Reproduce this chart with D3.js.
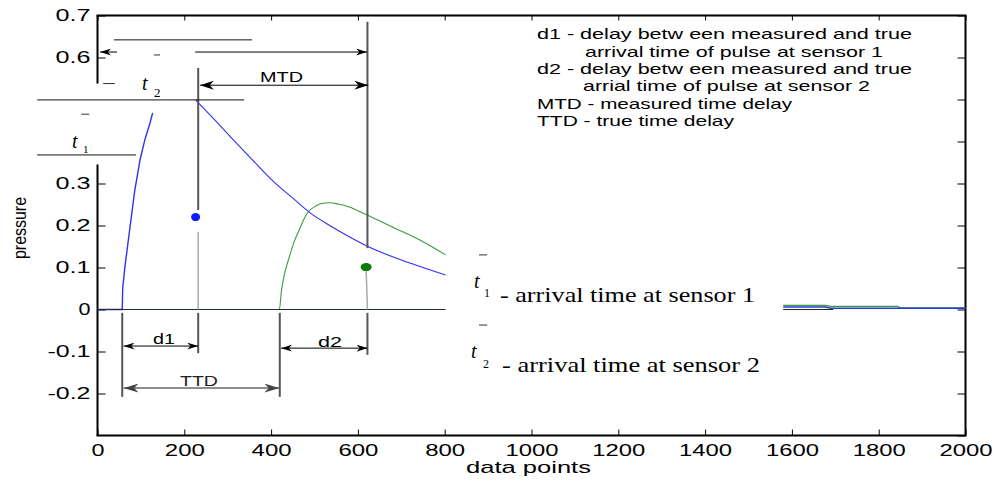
<!DOCTYPE html>
<html><head><meta charset="utf-8">
<script src="https://cdn.jsdelivr.net/npm/d3@7"></script>
<style>
html,body{margin:0;padding:0;background:#fff;}
svg{display:block;}
text{font-family:"Liberation Sans",Arial,sans-serif;}
.serif{font-family:"Liberation Serif","Times New Roman",serif;}
</style></head>
<body>
<svg id="chart" width="997" height="481"></svg>
<script>
// ---- data ----
const xTicks = [0,200,400,600,800,1000,1200,1400,1600,1800,2000];
const yTickLabels = [0.7,0.6,0.3,0.2,0.1,0,-0.1,-0.2];
const yTicksRight = [-0.3,-0.2,-0.1,0,0.1,0.2,0.3,0.4,0.5,0.6,0.7];

const blueRiseX = [0, 57, 58, 63, 75, 86, 98, 109, 121, 127];
const blueRiseY = [0, 0, 0.05, 0.10, 0.197, 0.284, 0.356, 0.404, 0.444, 0.468];
const blueDecayX = [226, 275, 313, 359, 402, 450, 490, 540, 582, 623, 697, 750, 802];
const blueDecayY = [0.499, 0.446, 0.404, 0.354, 0.308, 0.265, 0.230, 0.197, 0.172, 0.150, 0.119, 0.100, 0.082];
const greenX = [0, 419, 424, 431, 442, 453, 465, 483, 504, 520, 535, 555, 580, 619, 678, 747, 802];
const greenY = [0, 0, 0.046, 0.085, 0.125, 0.161, 0.190, 0.229, 0.247, 0.253, 0.254, 0.251, 0.244, 0.226, 0.197, 0.163, 0.130];
const blueTailX = [1580, 1677, 1690, 2000];
const blueTailY = [0.006, 0.006, 0.003, 0.003];
const greenTailX = [1580, 1677, 1690, 1843, 1850, 2000];
const greenTailY = [0.010, 0.010, 0.0076, 0.0076, 0.004, 0.004];
const zeroSegments = [[0, 802], [1580, 1695]];

const measuredX = [226, 619];
const measuredY = [0.22, 0.101];

const legendLines = [
  "d1 - delay betw een measured and true",
  "arrival time of pulse at sensor 1",
  "d2 - delay betw een measured and true",
  "arrial time of pulse at sensor 2",
  "MTD - measured time delay",
  "TTD - true time delay"
];
const tNotes = ["- arrival time at sensor 1", "- arrival time at sensor 2"];

// ---- chart ----
const svg = d3.select("#chart");
svg.append("rect").attr("width",997).attr("height",481).attr("fill","#fff");
const x = d3.scaleLinear().domain([0,2000]).range([97.5,965.5]);
const y = d3.scaleLinear().domain([-0.3,0.7]).range([435.5,15.5]);

const defs = svg.append("defs");
function mk(id, w, h, color){
  defs.append("marker").attr("id",id).attr("viewBox",`0 0 ${w} ${h}`)
    .attr("refX",w).attr("refY",h/2).attr("markerWidth",w).attr("markerHeight",h)
    .attr("markerUnits","userSpaceOnUse").attr("orient","auto-start-reverse")
    .append("path").attr("d",`M0,0 L${w},${h/2} L0,${h} L${w*0.3},${h/2} Z`).attr("fill",color);
}
mk("arS",11,7,"#000"); mk("arB",14,9,"#000"); mk("arG",15,9,"#444");

const SANS = "'Liberation Sans', Arial, sans-serif";
// axes
const fmt = d => d === 0 ? "0" : String(d);
const gB = svg.append("g").attr("transform",`translate(0,${y(-0.3)})`)
  .call(d3.axisBottom(x).tickValues(xTicks).tickSize(-6).tickPadding(9).tickFormat(fmt));
const gT = svg.append("g").attr("transform",`translate(0,${y(0.7)})`)
  .call(d3.axisTop(x).tickValues(xTicks).tickSize(-5).tickFormat(""));
const gL = svg.append("g").attr("transform",`translate(${x(0)},0)`)
  .call(d3.axisLeft(y).tickValues(yTickLabels).tickSize(-8).tickPadding(7).tickFormat(fmt));
const gR = svg.append("g").attr("transform",`translate(${x(2000)},0)`)
  .call(d3.axisRight(y).tickValues(yTicksRight).tickSize(-8).tickFormat(""));
[gB,gT,gL,gR].forEach(g=>{ g.select(".domain").remove(); g.selectAll("line").attr("stroke","#000").attr("stroke-width",1); });
gB.selectAll("text").attr("font-size",16).attr("fill","#000").attr("font-family",SANS)
  .attr("textLength", d => String(d).length===1 ? 13 : (String(d).length===3 ? 40 : 53)).attr("lengthAdjust","spacingAndGlyphs");
gL.selectAll("text").attr("font-size",16).attr("fill","#000").attr("font-family",SANS)
  .attr("textLength", d => d===0 ? 12 : (d<0 ? 43 : 35)).attr("lengthAdjust","spacingAndGlyphs");

// box lines (left axis broken)
const ax = svg.append("g").attr("stroke","#000").attr("stroke-width",2);
ax.append("line").attr("x1",x(0)-1).attr("x2",x(2000)+1).attr("y1",y(0.7)).attr("y2",y(0.7));
ax.append("line").attr("x1",x(0)-1).attr("x2",x(2000)+1).attr("y1",y(-0.3)).attr("y2",y(-0.3));
ax.append("line").attr("x1",x(2000)).attr("x2",x(2000)).attr("y1",y(0.7)).attr("y2",y(-0.3));
ax.append("line").attr("x1",x(0)).attr("x2",x(0)).attr("y1",y(0.7)).attr("y2",y(0.538));
ax.append("line").attr("x1",x(0)).attr("x2",x(0)).attr("y1",y(0.345)).attr("y2",y(-0.3));

// curves
const line = d3.line().x(d=>x(d[0])).y(d=>y(d[1]));
const smooth = d3.line().x(d=>x(d[0])).y(d=>y(d[1])).curve(d3.curveMonotoneX);
const zip = (a,b) => a.map((v,i)=>[v,b[i]]);
const curves = svg.append("g").attr("fill","none");
curves.append("path").attr("d",smooth(zip(greenX,greenY))).attr("stroke","#3a9a3a").attr("stroke-width",1.1);
curves.append("path").attr("d",line(zip(blueRiseX,blueRiseY))).attr("stroke","#3030f0").attr("stroke-width",1.4);
curves.append("path").attr("d",smooth(zip(blueDecayX,blueDecayY))).attr("stroke","#3030f0").attr("stroke-width",1.1);
curves.append("path").attr("d",line(zip(greenTailX,greenTailY))).attr("stroke","#3a9a3a").attr("stroke-width",1.3);
curves.append("path").attr("d",line(zip(blueTailX,blueTailY))).attr("stroke","#2a3ad0").attr("stroke-width",1.5);
zeroSegments.forEach(s=>{
  curves.append("path").attr("d",line([[s[0],0],[s[1],0]])).attr("stroke","#1e2e28").attr("stroke-width",1.2);
});

// annotation geometry (data units)
const darkV = [[232,0.575,0.237],[622,0.685,0.146],[57,-0.008,-0.208],[232,-0.008,-0.104],[420,-0.008,-0.208],[622,-0.008,-0.108]];
const lightV = [[232,0.185,0,232],[619,0.094,0,622]];
const plainH = [[-139,338,0.499],[-139,89,0.368],[38,356,0.642]];
const an = svg.append("g");
darkV.forEach(v=>an.append("line").attr("x1",x(v[0])).attr("x2",x(v[0])).attr("y1",y(v[1])).attr("y2",y(v[2])).attr("stroke","#555").attr("stroke-width",2));
lightV.forEach(v=>an.append("line").attr("x1",x(v[0])).attr("x2",x(v[3])).attr("y1",y(v[1])).attr("y2",y(v[2])).attr("stroke","#aaa").attr("stroke-width",1.5));
plainH.forEach(h=>an.append("line").attr("x1",x(h[0])).attr("x2",x(h[1])).attr("y1",y(h[2])).attr("y2",y(h[2])).attr("stroke","#111").attr("stroke-width",1));

// arrows: [x1,x2,y,markerStart,markerEnd,color,width]
const arrows = [
  [60,232,-0.087,"arS","arS","#000",1],
  [423,622,-0.092,"arS","arS","#000",1],
  [60,419,-0.187,"arG","arG","#666",1.6],
  [236,624,0.534,"arB","arB","#000",1],
  [225,621,0.613,null,"arS","#000",1],
  [6,45,0.613,"arS",null,"#000",1]
];
arrows.forEach(a=>{
  const l = an.append("line").attr("x1",x(a[0])).attr("x2",x(a[1])).attr("y1",y(a[2])).attr("y2",y(a[2]))
    .attr("stroke",a[5]).attr("stroke-width",a[6]);
  if(a[3]) l.attr("marker-start",`url(#${a[3]})`);
  if(a[4]) l.attr("marker-end",`url(#${a[4]})`);
});

// small bar marks
const bars = [[-37,-19,0.465],[130,144,0.606],[13,40,0.538],[879,898,0.130],[879,898,-0.037]];
bars.forEach(b=>an.append("line").attr("x1",x(b[0])).attr("x2",x(b[1])).attr("y1",y(b[2])).attr("y2",y(b[2])).attr("stroke","#333").attr("stroke-width",1));

// measured points
const dotCol = ["#0a1eff","#0a7a0a"];
svg.append("g").selectAll("ellipse").data(measuredX).join("ellipse")
  .attr("cx",(d)=>x(d)).attr("cy",(d,i)=>y(measuredY[i])).attr("rx",(d,i)=>i?5.5:4.5).attr("ry",4)
  .attr("fill",(d,i)=>dotCol[i]);

// labels
function txt(s, px, py, size, len, opts={}){
  const t = svg.append("text").attr("x",px).attr("y",py).attr("font-size",size).text(s)
    .attr("fill",opts.fill||"#000");
  if(len){ t.attr("textLength",len).attr("lengthAdjust","spacingAndGlyphs"); }
  if(opts.anchor) t.attr("text-anchor",opts.anchor);
  if(opts.cls) t.attr("class",opts.cls);
  if(opts.italic) t.attr("font-style","italic");
  return t;
}
txt("d1",153,344,15,22);
txt("d2",318,347,15,24);
txt("TTD",180,386,15,38,{fill:"#222"});
txt("MTD",260,82,15,43);
txt("data points",466,473,17,125);
svg.append("text").attr("transform","translate(26,228) rotate(-90)").attr("text-anchor","middle")
  .attr("font-size",19).attr("textLength",62).attr("lengthAdjust","spacingAndGlyphs").text("pressure");

const legX = [537,585,537,583,537,537];
const legW = [375,298,375,287,255,197];
const legY = [39,56.5,74,91,108.5,126];
legendLines.forEach((s,i)=>txt(s,legX[i],legY[i],14.5,legW[i]));

// t labels (serif italic)
txt("t",72,148,20,null,{cls:"serif",italic:true});
txt("1",83,153,11,null,{cls:"serif"});
txt("t",142,90,20,null,{cls:"serif",italic:true});
txt("2",154,97,13,null,{cls:"serif"});
txt("t",474,288,20,null,{cls:"serif",italic:true});
txt("1",484,297,12,null,{cls:"serif"});
txt("t",471,358,20,null,{cls:"serif",italic:true});
txt("2",483,368,12,null,{cls:"serif"});
txt(tNotes[0],500,302,22,255,{cls:"serif"});
txt(tNotes[1],502,372,22,258,{cls:"serif"});
</script>
</body></html>
